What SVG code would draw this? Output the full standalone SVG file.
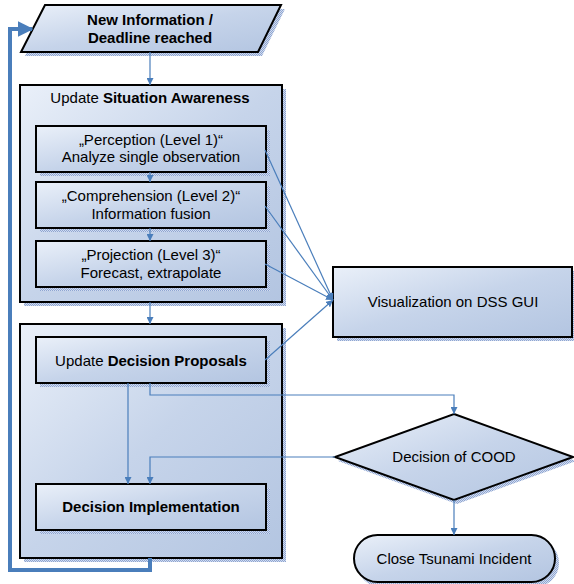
<svg xmlns="http://www.w3.org/2000/svg" width="574" height="584" viewBox="0 0 574 584">
<style>
.node{fill:url(#g);stroke:#000;stroke-width:2}
.sh{fill:url(#dots)}
.t{font-family:"Liberation Sans",Arial,sans-serif;font-size:15px;fill:#000;text-anchor:middle}
.b{font-weight:bold}
.c{fill:none;stroke:#4a7ebb;stroke-width:1.2}
.fb{fill:none;stroke:#4a7ebb;stroke-width:4}
</style>
<defs>
<linearGradient id="g" x1="0" y1="0" x2="1" y2="1">
<stop offset="0" stop-color="#eaf0f9"/>
<stop offset="0.5" stop-color="#c6d4ea"/>
<stop offset="1" stop-color="#b3c5e1"/>
</linearGradient>
<pattern id="dots" width="2" height="2" patternUnits="userSpaceOnUse">
<rect width="2" height="2" fill="#d2dbee"/>
<rect width="1" height="1" fill="#8ea6d2"/>
<rect x="1" y="1" width="1" height="1" fill="#8ea6d2"/>
</pattern>
<marker id="a" viewBox="0 0 10 10" refX="10" refY="5" markerWidth="7" markerHeight="7" markerUnits="userSpaceOnUse" orient="auto">
<path d="M0,0 L10,5 L0,10 z" fill="#4a7ebb"/>
</marker>
<marker id="ab" viewBox="0 0 10 10" refX="9" refY="5" markerWidth="4" markerHeight="4" orient="auto">
<path d="M0,0 L10,5 L0,10 z" fill="#4a7ebb"/>
</marker>
</defs>
<rect width="574" height="584" fill="#fff"/>

<g id="new-information">
<polygon class="sh" points="48,9 285,9 262,56 25,56"/>
<polygon class="node" points="45,5 281,5 258,52 21,52"/>
<text class="t b" x="150" y="25">New Information /</text>
<text class="t b" x="150" y="43">Deadline reached</text>
</g>

<g id="situation-awareness">
<rect class="sh" x="24" y="89" width="262" height="217"/>
<rect class="node" x="20" y="85" width="262" height="217"/>
<text class="t" x="150" y="103">Update <tspan class="b">Situation Awareness</tspan></text>
</g>

<g id="perception">
<rect class="sh" x="40" y="130" width="230" height="46"/>
<rect class="node" x="36" y="126" width="230" height="46"/>
<text class="t" x="151" y="145">„Perception (Level 1)“</text>
<text class="t" x="151" y="162">Analyze single observation</text>
</g>

<g id="comprehension">
<rect class="sh" x="40" y="186" width="230" height="46"/>
<rect class="node" x="36" y="182" width="230" height="46"/>
<text class="t" x="151" y="201">„Comprehension (Level 2)“</text>
<text class="t" x="151" y="219">Information fusion</text>
</g>

<g id="projection">
<rect class="sh" x="40" y="245" width="230" height="46"/>
<rect class="node" x="36" y="241" width="230" height="46"/>
<text class="t" x="151" y="260">„Projection (Level 3)“</text>
<text class="t" x="151" y="278">Forecast, extrapolate</text>
</g>

<g id="decision-block">
<rect class="sh" x="24" y="328" width="262" height="234"/>
<rect class="node" x="20" y="324" width="262" height="234"/>
</g>

<g id="decision-proposals">
<rect class="sh" x="40" y="341" width="230" height="46"/>
<rect class="node" x="36" y="337" width="230" height="46"/>
<text class="t" x="151" y="366">Update <tspan class="b">Decision Proposals</tspan></text>
</g>

<g id="decision-implementation">
<rect class="sh" x="40" y="488" width="230" height="46"/>
<rect class="node" x="36" y="484" width="230" height="46"/>
<text class="t b" x="151" y="512">Decision Implementation</text>
</g>

<g id="visualization">
<rect class="sh" x="337" y="271" width="237" height="70"/>
<rect class="node" x="333" y="267" width="239" height="70"/>
<text class="t" x="453" y="307">Visualization on DSS GUI</text>
</g>

<g id="decision-cood">
<polygon class="sh" points="457,418 576,461 457,504 338,461"/>
<polygon class="node" points="454,414 573,457 454,500 335,457"/>
<text class="t" x="454" y="462">Decision of COOD</text>
</g>

<g id="close-incident">
<rect class="sh" x="357" y="539" width="202" height="48" rx="24"/>
<rect class="node" x="354" y="535" width="201" height="47" rx="23.5"/>
<text class="t" x="454" y="564">Close Tsunami Incident</text>
</g>

<g id="connectors">
<path class="c" d="M150,52 V85" marker-end="url(#a)"/>
<path class="c" d="M150,172 V182" marker-end="url(#a)"/>
<path class="c" d="M150,228 V241" marker-end="url(#a)"/>
<path class="c" d="M150,302 V324" marker-end="url(#a)"/>
<path class="c" d="M265,150 L333,300" marker-end="url(#a)"/>
<path class="c" d="M265,206 L333,300" marker-end="url(#a)"/>
<path class="c" d="M265,264 L333,300" marker-end="url(#a)"/>
<path class="c" d="M265,360 L333,300" marker-end="url(#a)"/>
<path class="c" d="M128,383 V484" marker-end="url(#a)"/>
<path class="c" d="M150,383 V395 H454 V414" marker-end="url(#a)"/>
<path class="c" d="M335,457 H150 V484" marker-end="url(#a)"/>
<path class="c" d="M454,500 V535" marker-end="url(#a)"/>
<path class="fb" d="M150,558 V570 H10 V29 H32" marker-end="url(#ab)"/>
</g>
</svg>
